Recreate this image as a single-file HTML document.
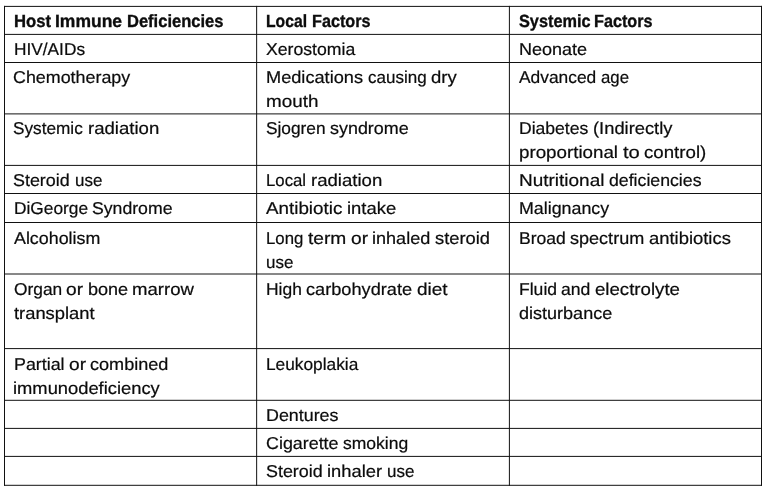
<!DOCTYPE html>
<html lang="en"><head><meta charset="utf-8"><title>Risk factors</title>
<style>
html,body{margin:0;padding:0;background:#fff}
#p{position:relative;width:768px;height:491px;overflow:hidden;background:#fff;font-family:"Liberation Sans",sans-serif;font-size:17.2px;line-height:22px;text-rendering:geometricPrecision;color:#0c0c0c;-webkit-text-stroke:0.22px #0c0c0c;}
#g{position:absolute;left:0;top:0}
.c span{position:absolute;white-space:pre;transform-origin:0 0}
.b{font-weight:700;font-size:17.6px;-webkit-text-stroke-width:0.35px}
</style></head><body><div id="p">
<svg id="g" width="768" height="491" viewBox="0 0 768 491"><g stroke="#111" stroke-width="1" fill="none"><line x1="4.0" x2="762.0" y1="6.4" y2="6.4"/><line x1="4.0" x2="762.0" y1="34.4" y2="34.4"/><line x1="4.0" x2="762.0" y1="62.5" y2="62.5"/><line x1="4.0" x2="762.0" y1="113.9" y2="113.9"/><line x1="4.0" x2="762.0" y1="165.4" y2="165.4"/><line x1="4.0" x2="762.0" y1="193.5" y2="193.5"/><line x1="4.0" x2="762.0" y1="222.5" y2="222.5"/><line x1="4.0" x2="762.0" y1="274.0" y2="274.0"/><line x1="4.0" x2="762.0" y1="348.6" y2="348.6"/><line x1="4.0" x2="762.0" y1="400.3" y2="400.3"/><line x1="4.0" x2="762.0" y1="428.4" y2="428.4"/><line x1="4.0" x2="762.0" y1="456.4" y2="456.4"/><line x1="4.0" x2="762.0" y1="485.3" y2="485.3"/><line y1="5.9" y2="485.8" x1="4.5" x2="4.5"/><line y1="5.9" y2="485.8" x1="256.65" x2="256.65"/><line y1="5.9" y2="485.8" x1="509.4" x2="509.4"/><line y1="5.9" y2="485.8" x1="761.5" x2="761.5"/></g></svg>
<div class="r b">
<div class="c"><span style="left:13.6px;top:9.9px;transform:scaleX(0.947)">Host </span><span style="left:55.2px;top:9.9px;transform:scaleX(0.994)">Immune </span><span style="left:126.7px;top:9.9px;transform:scaleX(0.939)">Deficiencies</span></div>
<div class="c"><span style="left:266.2px;top:9.9px;transform:scaleX(0.892)">Local </span><span style="left:311.6px;top:9.9px;transform:scaleX(0.921)">Factors</span></div>
<div class="c"><span style="left:518.7px;top:9.9px;transform:scaleX(0.926)">Systemic </span><span style="left:594.3px;top:9.9px;transform:scaleX(0.921)">Factors</span></div>
</div>
<div class="r">
<div class="c"><span style="left:13.5px;top:38.1px;transform:scaleX(1.005)">HIV/AIDs</span></div>
<div class="c"><span style="left:265.9px;top:38.1px;transform:scaleX(1.026)">Xerostomia</span></div>
<div class="c"><span style="left:518.7px;top:38.1px;transform:scaleX(1.048)">Neonate</span></div>
</div>
<div class="r">
<div class="c"><span style="left:13.3px;top:66.1px;transform:scaleX(1.040)">Chemotherapy</span></div>
<div class="c"><span style="left:266.3px;top:66.1px;transform:scaleX(1.058)">Medications </span><span style="left:367.7px;top:66.1px;transform:scaleX(0.989)">causing </span><span style="left:431.1px;top:66.1px;transform:scaleX(1.075)">dry</span><span style="left:266.3px;top:90.1px;transform:scaleX(1.097)">mouth</span></div>
<div class="c"><span style="left:518.8px;top:66.1px;transform:scaleX(1.011)">Advanced </span><span style="left:600.9px;top:66.1px;transform:scaleX(0.976)">age</span></div>
</div>
<div class="r">
<div class="c"><span style="left:13.3px;top:117.1px;transform:scaleX(1.001)">Systemic </span><span style="left:87.5px;top:117.1px;transform:scaleX(1.081)">radiation</span></div>
<div class="c"><span style="left:265.9px;top:117.1px;transform:scaleX(1.006)">Sjogren </span><span style="left:330.2px;top:117.1px;transform:scaleX(1.043)">syndrome</span></div>
<div class="c"><span style="left:518.7px;top:117.1px;transform:scaleX(1.021)">Diabetes </span><span style="left:592.6px;top:117.1px;transform:scaleX(1.066)">(Indirectly</span><span style="left:518.9px;top:141.1px;transform:scaleX(1.091)">proportional </span><span style="left:622.6px;top:141.1px;transform:scaleX(1.173)">to </span><span style="left:643.5px;top:141.1px;transform:scaleX(1.086)">control)</span></div>
</div>
<div class="r">
<div class="c"><span style="left:13.3px;top:169.1px;transform:scaleX(1.041)">Steroid </span><span style="left:74.7px;top:169.1px;transform:scaleX(0.987)">use</span></div>
<div class="c"><span style="left:266.1px;top:169.1px;transform:scaleX(0.975)">Local </span><span style="left:310.9px;top:169.1px;transform:scaleX(1.081)">radiation</span></div>
<div class="c"><span style="left:518.6px;top:169.1px;transform:scaleX(1.104)">Nutritional </span><span style="left:608.6px;top:169.1px;transform:scaleX(1.030)">deficiencies</span></div>
</div>
<div class="r">
<div class="c"><span style="left:13.5px;top:197.1px;transform:scaleX(1.007)">DiGeorge </span><span style="left:91.7px;top:197.1px;transform:scaleX(1.027)">Syndrome</span></div>
<div class="c"><span style="left:266.2px;top:197.1px;transform:scaleX(1.094)">Antibiotic </span><span style="left:346.7px;top:197.1px;transform:scaleX(1.071)">intake</span></div>
<div class="c"><span style="left:518.9px;top:197.1px;transform:scaleX(1.037)">Malignancy</span></div>
</div>
<div class="r">
<div class="c"><span style="left:13.6px;top:227.1px;transform:scaleX(1.038)">Alcoholism</span></div>
<div class="c"><span style="left:266.1px;top:227.1px;transform:scaleX(0.975)">Long </span><span style="left:308.3px;top:227.1px;transform:scaleX(1.115)">term </span><span style="left:350.9px;top:227.1px;transform:scaleX(1.112)">or </span><span style="left:372.2px;top:227.1px;transform:scaleX(1.051)">inhaled </span><span style="left:435.2px;top:227.1px;transform:scaleX(1.065)">steroid</span><span style="left:266.3px;top:251.1px;transform:scaleX(0.987)">use</span></div>
<div class="c"><span style="left:518.7px;top:227.1px;transform:scaleX(1.020)">Broad </span><span style="left:570.3px;top:227.1px;transform:scaleX(1.050)">spectrum </span><span style="left:649.0px;top:227.1px;transform:scaleX(1.071)">antibiotics</span></div>
</div>
<div class="r">
<div class="c"><span style="left:13.5px;top:278.1px;transform:scaleX(1.009)">Organ </span><span style="left:66.1px;top:278.1px;transform:scaleX(1.112)">or </span><span style="left:87.7px;top:278.1px;transform:scaleX(1.049)">bone </span><span style="left:132.3px;top:278.1px;transform:scaleX(1.080)">marrow</span><span style="left:13.6px;top:302.1px;transform:scaleX(1.067)">transplant</span></div>
<div class="c"><span style="left:266.1px;top:278.1px;transform:scaleX(1.014)">High </span><span style="left:306.3px;top:278.1px;transform:scaleX(1.057)">carbohydrate </span><span style="left:416.6px;top:278.1px;transform:scaleX(1.105)">diet</span></div>
<div class="c"><span style="left:518.7px;top:278.1px;transform:scaleX(1.021)">Fluid </span><span style="left:561.4px;top:278.1px;transform:scaleX(1.023)">and </span><span style="left:595.3px;top:278.1px;transform:scaleX(1.084)">electrolyte</span><span style="left:518.7px;top:302.1px;transform:scaleX(1.049)">disturbance</span></div>
</div>
<div class="r">
<div class="c"><span style="left:13.5px;top:353.1px;transform:scaleX(1.038)">Partial </span><span style="left:68.6px;top:353.1px;transform:scaleX(1.112)">or </span><span style="left:89.9px;top:353.1px;transform:scaleX(1.052)">combined</span><span style="left:13.4px;top:377.1px;transform:scaleX(1.067)">immunodeficiency</span></div>
<div class="c"><span style="left:266.1px;top:353.1px;transform:scaleX(1.006)">Leukoplakia</span></div>
<div class="c"></div>
</div>
<div class="r">
<div class="c"></div>
<div class="c"><span style="left:266.0px;top:404.1px;transform:scaleX(1.039)">Dentures</span></div>
<div class="c"></div>
</div>
<div class="r">
<div class="c"></div>
<div class="c"><span style="left:265.9px;top:432.1px;transform:scaleX(1.040)">Cigarette </span><span style="left:343.0px;top:432.1px;transform:scaleX(1.019)">smoking</span></div>
<div class="c"></div>
</div>
<div class="r">
<div class="c"></div>
<div class="c"><span style="left:265.9px;top:460.1px;transform:scaleX(1.041)">Steroid </span><span style="left:327.0px;top:460.1px;transform:scaleX(1.066)">inhaler </span><span style="left:386.6px;top:460.1px;transform:scaleX(0.987)">use</span></div>
<div class="c"></div>
</div>
</div></body></html>
